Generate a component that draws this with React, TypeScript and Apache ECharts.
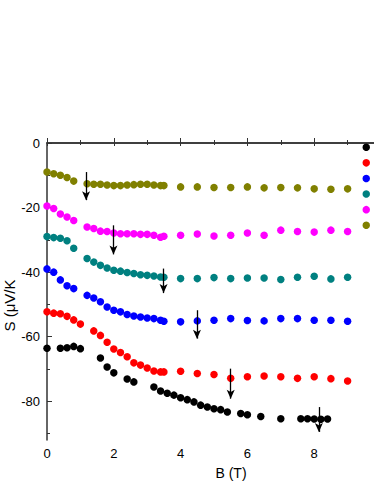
import React, { useEffect, useRef } from "react";
import * as echarts from "echarts";

// Series data: [B (T), S (µV/K)]
const blackPts: [number, number][] = [
  [0, -63.6], [0.4, -63.6], [0.6, -63.4], [0.8, -63.0], [1.0, -63.7],
  [1.6, -66.6], [1.8, -69.4], [2.0, -71.2], [2.4, -73.1], [2.6, -74.0],
  [3.2, -75.6], [3.4, -76.8], [3.6, -77.5], [3.8, -78.1], [4.0, -78.9],
  [4.2, -79.5], [4.4, -80.2], [4.6, -81.2], [4.8, -81.8], [5.0, -82.3],
  [5.2, -82.6], [5.4, -83.3], [5.8, -83.8], [6.0, -84.2], [6.4, -84.7],
  [7.0, -85.4], [7.6, -85.4], [7.8, -85.4], [8.0, -85.5], [8.2, -85.6], [8.4, -85.5],
];
const redPts: [number, number][] = [
  [0, -52.3], [0.2, -52.7], [0.4, -52.9], [0.6, -53.7], [0.8, -54.8], [1.0, -56.1],
  [1.4, -58.2], [1.6, -59.6], [1.8, -61.7], [2.0, -63.8], [2.2, -64.9], [2.4, -66.2],
  [2.6, -68.1], [2.8, -68.8], [3.0, -69.7], [3.2, -70.6], [3.4, -70.9], [3.5, -70.9],
  [4, -70.7], [4.5, -71.4], [5, -71.7], [5.5, -72.9], [6, -72.4], [6.5, -72.2],
  [7, -72.4], [7.5, -72.9], [8, -72.4], [8.5, -73.0], [9, -73.7],
];
const bluePts: [number, number][] = [
  [0, -39.0], [0.2, -40.0], [0.4, -42.4], [0.6, -44.2], [0.8, -45.1],
  [1.2, -47.2], [1.4, -48.0], [1.6, -49.2], [1.8, -50.8], [2.0, -51.8], [2.2, -52.3],
  [2.4, -53.1], [2.6, -53.6], [2.8, -53.9], [3.0, -54.2], [3.2, -54.4], [3.4, -54.9], [3.5, -55.2],
  [4, -55.4], [4.5, -55.1], [5, -54.9], [5.5, -54.4], [6, -55.0], [6.5, -55.1],
  [7, -54.4], [7.5, -54.4], [8, -54.9], [8.5, -54.9], [9, -55.2],
];
const tealPts: [number, number][] = [
  [0, -29.0], [0.2, -29.3], [0.4, -29.5], [0.6, -30.3], [0.8, -32.6],
  [1.2, -35.8], [1.4, -36.9], [1.6, -37.9], [1.8, -38.7], [2.0, -39.4], [2.2, -39.7],
  [2.4, -40.1], [2.6, -40.4], [2.8, -40.8], [3.0, -41.0], [3.2, -41.2], [3.4, -41.5], [3.5, -41.6],
  [4, -42.0], [4.5, -42.0], [5, -41.7], [5.5, -42.0], [6, -41.8], [6.5, -41.8],
  [7, -42.3], [7.5, -41.6], [8, -41.3], [8.5, -42.1], [9, -41.6],
];
const magentaPts: [number, number][] = [
  [0, -19.5], [0.2, -20.3], [0.4, -22.0], [0.6, -22.9], [0.8, -24.0],
  [1.2, -26.0], [1.4, -26.5], [1.6, -27.3], [1.8, -27.4], [2.0, -27.9], [2.2, -28.1],
  [2.4, -28.1], [2.6, -28.1], [2.8, -28.3], [3.0, -28.3], [3.2, -28.6], [3.4, -29.2], [3.5, -28.9],
  [4, -28.6], [4.5, -28.2], [5, -28.8], [5.5, -28.6], [6, -27.9], [6.5, -28.6],
  [7, -27.0], [7.5, -27.4], [8, -27.6], [8.5, -27.0], [9, -27.4],
];
const olivePts: [number, number][] = [
  [0, -9.0], [0.2, -9.5], [0.4, -10.0], [0.6, -10.7], [0.8, -11.8],
  [1.2, -12.6], [1.4, -12.8], [1.6, -12.8], [1.8, -13.0], [2.0, -13.2], [2.2, -13.2],
  [2.4, -13.0], [2.6, -12.9], [2.8, -12.8], [3.0, -12.8], [3.2, -13.0], [3.4, -13.2], [3.5, -13.2],
  [4, -13.6], [4.5, -13.6], [5, -13.8], [5.5, -13.8], [6, -13.6], [6.5, -13.9],
  [7, -13.8], [7.5, -13.9], [8, -14.2], [8.5, -14.3], [9, -14.2],
];

// Arrow annotations: [B, S start, S end]
const arrows: [number, number, number][] = [
  [1.17, -9.0, -17.7],
  [1.99, -25.5, -34.5],
  [3.49, -38.9, -46.5],
  [4.49, -51.8, -60.6],
  [5.5, -69.9, -79.2],
  [8.14, -81.8, -89.5],
];

const seriesNames = ["s1", "s2", "s3", "s4", "s5", "s6"];
const seriesColors = ["#000000", "#ff0000", "#0000ff", "#008080", "#ff00ff", "#808000"];
const seriesData = [blackPts, redPts, bluePts, tealPts, magentaPts, olivePts];

const yLabelValues = [0, -20, -40, -60, -80];
const yMinorValues = [-10, -30, -50, -70, -90];

const FONT = "Liberation Sans";

export default function App() {
  const ref = useRef<HTMLDivElement>(null);
  useEffect(() => {
    if (!ref.current) return;
    const chart = echarts.init(ref.current, undefined, { renderer: "svg" });
    const axisColor = "#333333";
    const series: any[] = seriesData.map((d, i) => ({
      name: seriesNames[i],
      type: "scatter",
      data: d,
      symbol: "circle",
      symbolSize: 7.5,
      itemStyle: { color: seriesColors[i], opacity: 1 },
      silent: true,
      z: 2,
    }));
    series.push({
      name: "arrows",
      type: "scatter",
      data: [],
      silent: true,
      z: 5,
      markLine: {
        silent: true,
        symbol: ["none", "arrow"],
        symbolSize: [6, 9],
        label: { show: false },
        lineStyle: { color: "#000", width: 1.3, type: "solid", opacity: 1 },
        emphasis: { disabled: true },
        data: arrows.map(([x, y0, y1]) => [{ coord: [x, y0] }, { coord: [x, y1] }]),
      },
    });
    chart.setOption({
      animation: false,
      backgroundColor: "#ffffff",
      textStyle: { fontFamily: FONT },
      grid: { left: 47, right: -7, top: 143, bottom: 44, containLabel: false, outerBoundsMode: "none" },
      legend: {
        orient: "vertical",
        left: 362.5,
        top: 143.5,
        itemWidth: 7.5,
        itemHeight: 7.5,
        itemGap: 8.1,
        icon: "circle",
        data: seriesNames,
        formatter: () => "",
        selectedMode: false,
        padding: 0,
        itemStyle: { opacity: 1 },
      },
      xAxis: [
        {
          type: "value",
          min: 0,
          max: 10,
          interval: 2,
          position: "bottom",
          axisLine: { lineStyle: { color: axisColor, width: 1.5 } },
          axisTick: { inside: true, length: 5, lineStyle: { color: axisColor } },
          minorTick: { show: true, splitNumber: 2, length: 3, lineStyle: { color: axisColor } },
          splitLine: { show: false },
          minorSplitLine: { show: false },
          axisLabel: { color: "#000", fontSize: 13, margin: 7, fontFamily: FONT, showMaxLabel: false },
          name: "B (T)",
          nameLocation: "middle",
          nameGap: 26,
          nameMoveOverlap: false,
          nameTextStyle: { color: "#000", fontSize: 14, fontFamily: FONT, padding: [0, 0, 0, 34] },
        },
        {
          type: "value",
          min: 0,
          max: 10,
          interval: 2,
          position: "top",
          axisLine: { lineStyle: { color: axisColor, width: 1.5 } },
          axisTick: { inside: true, length: 3, lineStyle: { color: axisColor } },
          minorTick: { show: true, splitNumber: 2, length: 2, lineStyle: { color: axisColor } },
          splitLine: { show: false },
          axisLabel: { show: false },
        },
      ],
      yAxis: [
        {
          type: "value",
          min: -92,
          max: 0,
          position: "left",
          axisLine: { show: true, lineStyle: { color: axisColor, width: 1.5 } },
          axisTick: { show: true, inside: true, length: 5, customValues: yLabelValues, lineStyle: { color: axisColor } },
          axisLabel: { color: "#000", fontSize: 13, margin: 7, fontFamily: FONT, customValues: yLabelValues },
          splitLine: { show: false },
          name: "S (μV/K",
          nameLocation: "middle",
          nameGap: 30,
          nameMoveOverlap: false,
          nameTextStyle: { color: "#000", fontSize: 15, fontFamily: FONT, padding: [0, 28, 0, 0] },
        },
        {
          type: "value",
          min: -92,
          max: 0,
          position: "left",
          axisLine: { show: false },
          axisTick: { show: true, inside: true, length: 3, customValues: yMinorValues, lineStyle: { color: axisColor } },
          axisLabel: { show: false },
          splitLine: { show: false },
        },
      ],
      series,
    });
    return () => chart.dispose();
  }, []);
  return <div ref={ref} style={{ position: "absolute", left: 0, top: 0, width: 374, height: 484 }} />;
}
